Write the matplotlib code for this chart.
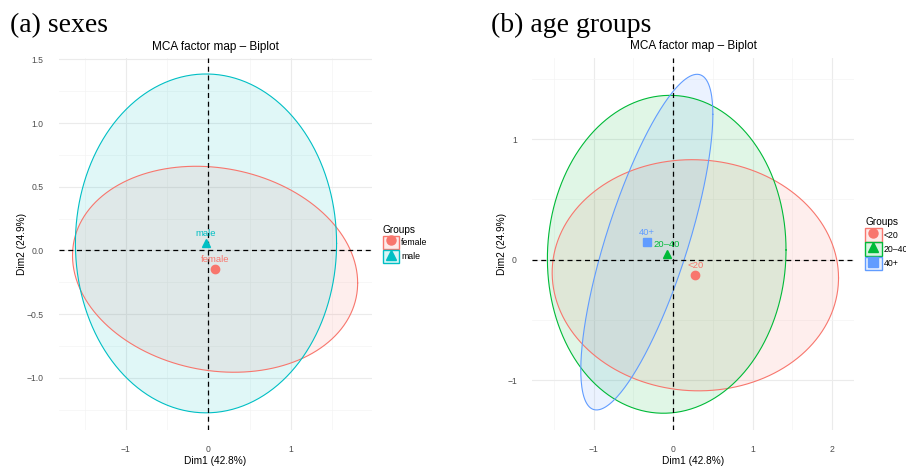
import numpy as np
import matplotlib
matplotlib.use('Agg')
import matplotlib.pyplot as plt
from matplotlib.patches import Patch
from matplotlib.lines import Line2D
from matplotlib.colors import to_rgba

####################
# DATA
####################

# (a) sexes: category coordinates and confidence ellipse shape (var x, var y, cov xy)
sex_groups = ['female', 'male']
sex_x = [0.08, -0.03]
sex_y = [-0.148, 0.055]
sex_ell_xx = [2.98, 2.50]
sex_ell_yy = [0.654, 1.77]
sex_ell_xy = [-0.186, 0.0]

# (b) age groups
age_groups = ['<20', '20–40', '40+']
age_x = [0.28, -0.08, -0.33]
age_y = [-0.13, 0.044, 0.145]
age_ell_xx = [3.24, 2.25, 0.689]
age_ell_yy = [0.92, 1.74, 1.94]
age_ell_xy = [-0.04, 0.054, 0.88]

# axis ticks
sex_xticks = [-1, 0, 1]
sex_yticks = [-1.0, -0.5, 0.0, 0.5, 1.0, 1.5]
age_xticks = [-1, 0, 1, 2]
age_yticks = [-1, 0, 1]

####################
# STYLE
####################
sex_colors = ['#F8766D', '#00BFC4']
sex_markers = ['o', '^']
age_colors = ['#F8766D', '#00BA38', '#619CFF']
age_markers = ['o', '^', 's']

plt.rcParams['font.family'] = ['Liberation Sans', 'DejaVu Sans']
tick_col = '#4D4D4D'


def ellipse_xy(cx, cy, sxx, syy, sxy, n=300):
    t = np.linspace(0, 2 * np.pi, n)
    L = np.linalg.cholesky(np.array([[sxx, sxy], [sxy, syy]]))
    pts = L @ np.vstack([np.cos(t), np.sin(t)])
    return cx + pts[0], cy + pts[1]


def fmt(v, dec):
    s = f'{v:.{dec}f}'
    return s.replace('-', '\u2212')


def biplot(ax, groups, xs, ys, sxx, syy, sxy, colors, markers,
           xticks, yticks, ydec, xlim, ylim, leg_x):
    # ellipses
    for i in range(len(groups)):
        ex, ey = ellipse_xy(xs[i], ys[i], sxx[i], syy[i], sxy[i])
        ax.fill(ex, ey, color=colors[i], alpha=0.12, lw=0, zorder=1)
        ax.plot(ex, ey, color=colors[i], lw=0.8, zorder=2)

    # reference lines
    ax.axhline(0, color='black', lw=0.9, ls=(0, (4, 3)), zorder=3)
    ax.axvline(0, color='black', lw=0.9, ls=(0, (4, 3)), zorder=3)

    # category points and labels
    for i in range(len(groups)):
        ax.plot(xs[i], ys[i], marker=markers[i], color=colors[i], ls='none',
                markersize=6, zorder=4)
        ax.annotate(groups[i], (xs[i], ys[i]), xytext=(0, 7),
                    textcoords='offset points', ha='center', va='center',
                    color=colors[i], fontsize=6.8, zorder=5)

    # ticks first, limits after (set_ticks can widen the view)
    ax.set_xticks(xticks)
    ax.set_xticklabels([fmt(v, 0) for v in xticks])
    ax.set_yticks(yticks)
    ax.set_yticklabels([fmt(v, ydec) for v in yticks])
    xstep = xticks[1] - xticks[0]
    ystep = yticks[1] - yticks[0]
    ax.set_xticks(np.arange(xticks[0] - xstep / 2, xlim[1], xstep), minor=True)
    ax.set_yticks(np.arange(yticks[0] - ystep / 2, ylim[1], ystep), minor=True)
    ax.set_xlim(xlim)
    ax.set_ylim(ylim)
    ax.tick_params(which='both', length=0)
    ax.tick_params(axis='both', labelsize=6.2, labelcolor=tick_col, pad=11)
    ax.grid(which='major', color='#EBEBEB', lw=0.8)
    ax.grid(which='minor', color='#F4F4F4', lw=0.5)
    ax.set_axisbelow(True)
    for s in ax.spines.values():
        s.set_visible(False)

    ax.set_title('MCA factor map – Biplot', fontsize=8.5, pad=6)
    ax.set_xlabel('Dim1 (42.8%)', fontsize=7.3, labelpad=1)
    ax.set_ylabel('Dim2 (24.9%)', fontsize=7.3, labelpad=0)

    # legend
    handles = [(Patch(facecolor=to_rgba(c, 0.15), edgecolor=c, lw=1.0),
                Line2D([], [], ls='none', marker=m, color=c, markersize=6.5))
               for c, m in zip(colors, markers)]
    ax.legend(handles, groups, title='Groups', loc='center left',
              bbox_to_anchor=(leg_x, 0.5), frameon=False, fontsize=6.3,
              title_fontsize=7.3, handlelength=1.9, handleheight=2.0,
              handletextpad=0.2, labelspacing=0.1, borderpad=0,
              alignment='left')


fig = plt.figure(figsize=(9.06, 4.66), dpi=100)
ax1 = fig.add_axes([0.0651, 0.0773, 0.3455, 0.798])
ax2 = fig.add_axes([0.5875, 0.0773, 0.3547, 0.799])

biplot(ax1, sex_groups, sex_x, sex_y, sex_ell_xx, sex_ell_yy, sex_ell_xy,
       sex_colors, sex_markers, sex_xticks, sex_yticks, 1,
       (-1.81, 1.98), (-1.41, 1.51), 1.02)
biplot(ax2, age_groups, age_x, age_y, age_ell_xx, age_ell_yy, age_ell_xy,
       age_colors, age_markers, age_xticks, age_yticks, 0,
       (-1.77, 2.27), (-1.414, 1.676), 1.022)

fig.text(0.011, 0.932, '(a) sexes', family='Liberation Serif', fontsize=20,
         va='baseline')
fig.text(0.5416, 0.932, '(b) age groups', family='Liberation Serif',
         fontsize=20, va='baseline')

fig.savefig('out.png', dpi=100)
